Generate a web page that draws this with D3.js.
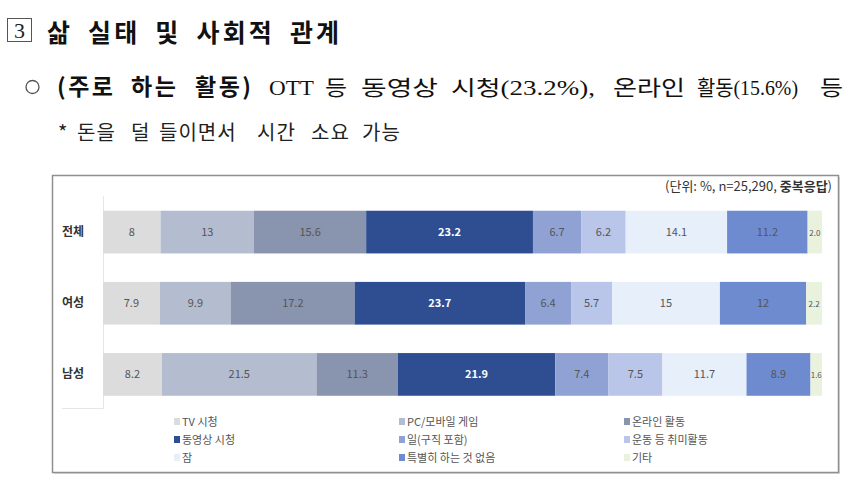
<!DOCTYPE html>
<html><head><meta charset="utf-8">
<script src="https://cdn.jsdelivr.net/npm/d3@7/dist/d3.min.js"></script>
<style>
body{margin:0;background:#fff;}
svg{display:block;}
</style></head>
<body>
<svg id="c" width="850" height="481"></svg>
<script>
const groups = ["전체", "여성", "남성"];
const seriesNames = ["TV 시청", "PC/모바일 게임", "온라인 활동", "동영상 시청", "일(구직 포함)", "운동 등 취미활동", "잠", "특별히 하는 것 없음", "기타"];
const valuesTotal = [8, 13, 15.6, 23.2, 6.7, 6.2, 14.1, 11.2, 2.0];
const valuesFemale = [7.9, 9.9, 17.2, 23.7, 6.4, 5.7, 15, 12, 2.2];
const valuesMale = [8.2, 21.5, 11.3, 21.9, 7.4, 7.5, 11.7, 8.9, 1.6];
const valueLabelsTotal = ["8", "13", "15.6", "23.2", "6.7", "6.2", "14.1", "11.2", "2.0"];
const valueLabelsFemale = ["7.9", "9.9", "17.2", "23.7", "6.4", "5.7", "15", "12", "2.2"];
const valueLabelsMale = ["8.2", "21.5", "11.3", "21.9", "7.4", "7.5", "11.7", "8.9", "1.6"];
const colors = ["#dcdcdc", "#b4bccf", "#8994ae", "#2f4e92", "#8fa2d3", "#b9c6ea", "#e7effb", "#6e8bd0", "#e8f2dd"];

const rows = [
  {g: groups[0], v: valuesTotal, l: valueLabelsTotal},
  {g: groups[1], v: valuesFemale, l: valueLabelsFemale},
  {g: groups[2], v: valuesMale, l: valueLabelsMale}
];

const svg = d3.select("#c");
const KR = "'Noto Sans CJK KR', 'Noto Sans', sans-serif";
const SERIF = "'Liberation Serif', 'Noto Sans CJK KR', serif";

// Header line 1
svg.append("rect").attr("x", 7.5).attr("y", 18.5).attr("width", 24).attr("height", 23)
  .attr("fill", "none").attr("stroke", "#555").attr("stroke-width", 1);
svg.append("text").attr("x", 19.5).attr("y", 38).attr("text-anchor", "middle")
  .attr("font-family", SERIF).attr("font-size", 22).attr("fill", "#222").text("3");
svg.append("text").attr("x", 47).attr("y", 42).attr("font-family", KR).attr("font-weight", 700)
  .attr("font-size", 25).attr("letter-spacing", 3.2).attr("word-spacing", 6).attr("fill", "#111")
  .text("삶 실태 및 사회적 관계");

// Header line 2
svg.append("circle").attr("cx", 32.5).attr("cy", 87).attr("r", 6.5)
  .attr("fill", "none").attr("stroke", "#555").attr("stroke-width", 1.3);
const words2b = [{t: "(주로", x: 57}, {t: "하는", x: 131}, {t: "활동)", x: 195}];
svg.append("g").selectAll("text").data(words2b).join("text")
  .attr("x", d => d.x).attr("y", 95)
  .attr("font-family", KR).attr("font-weight", 700).attr("font-size", 23)
  .attr("letter-spacing", 2.5).attr("fill", "#111")
  .text(d => d.t);
const words2 = [
  {t: "OTT", x: 269, w: 45},
  {t: "등", x: 325, w: 22},
  {t: "동영상", x: 361, w: 77},
  {t: "시청(23.2%),", x: 451, w: 144},
  {t: "온라인", x: 613, w: 72},
  {t: "활동(15.6%)", x: 697, w: 101},
  {t: "등", x: 820, w: 23}
];
svg.append("g").selectAll("text").data(words2).join("text")
  .attr("x", d => d.x).attr("y", 95)
  .attr("font-family", SERIF).attr("font-size", 21).attr("fill", "#111")
  .attr("textLength", d => d.w).attr("lengthAdjust", "spacingAndGlyphs")
  .text(d => d.t);

// Header line 3
const words3 = [
  {t: "*", x: 58}, {t: "돈을", x: 77}, {t: "덜", x: 131}, {t: "들이면서", x: 159},
  {t: "시간", x: 257}, {t: "소요", x: 311}, {t: "가능", x: 362}
];
svg.append("g").selectAll("text").data(words3).join("text")
  .attr("x", d => d.x).attr("y", 140)
  .attr("font-family", KR).attr("font-size", 20).attr("letter-spacing", 1).attr("fill", "#222")
  .text(d => d.t);

// Chart frame
svg.append("rect").attr("x", 54).attr("y", 177).attr("width", 786).attr("height", 297)
  .attr("fill", "#bbb").attr("opacity", 0.5);
svg.append("rect").attr("x", 52.5).attr("y", 175.5).attr("width", 786).attr("height", 297)
  .attr("fill", "#fff").attr("stroke", "#8f8f8f").attr("stroke-width", 1.5);

const x = d3.scaleLinear().domain([0, 100]).range([103, 822]);
const y = d3.scaleBand().domain(groups).range([196.5, 410]).paddingInner(0.4).paddingOuter(0.2);

// faint axis frame
svg.append("path").attr("d", `M103.5,196 V408.5 H62`).attr("fill", "none")
  .attr("stroke", "#e6e6e6").attr("stroke-width", 1);

// Unit text
const unit = svg.append("text").attr("x", 832).attr("y", 191).attr("text-anchor", "end")
  .attr("font-family", KR).attr("font-size", 13).attr("fill", "#333");
unit.append("tspan").text("(단위: %, n=25,290, ");
unit.append("tspan").attr("font-weight", 700).text("중복응답");
unit.append("tspan").text(")");

// Bars
rows.forEach(r => {
  let acc = 0;
  const segs = r.v.map((v, i) => { const s = {x0: acc, x1: acc + v, i, label: r.l[i]}; acc += v; return s; });
  const g = svg.append("g");
  g.selectAll("rect").data(segs).join("rect")
    .attr("x", d => x(d.x0)).attr("y", y(r.g))
    .attr("width", d => x(d.x1) - x(d.x0)).attr("height", y.bandwidth())
    .attr("fill", d => colors[d.i]);
  g.selectAll("text").data(segs).join("text")
    .attr("x", d => (x(d.x0) + x(d.x1)) / 2)
    .attr("y", y(r.g) + y.bandwidth() / 2 + 4)
    .attr("text-anchor", "middle")
    .attr("font-family", KR)
    .attr("font-size", d => d.i === 8 ? 8 : 11)
    .attr("font-weight", d => d.i === 3 ? 700 : 400)
    .attr("fill", d => d.i === 3 ? "#fff" : "#555")
    .text(d => d.label);
  svg.append("text").attr("x", 73).attr("y", y(r.g) + y.bandwidth() / 2 + 4)
    .attr("text-anchor", "middle").attr("font-family", KR).attr("font-weight", 700)
    .attr("font-size", 12).attr("fill", "#333").text(r.g);
});

// Legend
const legX = [177, 402, 627];
const legY = [422, 440, 458];
const leg = svg.append("g");
seriesNames.forEach((name, i) => {
  const cx = legX[i % 3], cy = legY[Math.floor(i / 3)];
  leg.append("rect").attr("x", cx - 3).attr("y", cy - 4).attr("width", 6).attr("height", 7).attr("fill", colors[i]);
  leg.append("text").attr("x", cx + 5).attr("y", cy + 3.5).attr("font-family", KR)
    .attr("font-size", 11).attr("fill", "#555").text(name);
});
</script>
</body></html>
